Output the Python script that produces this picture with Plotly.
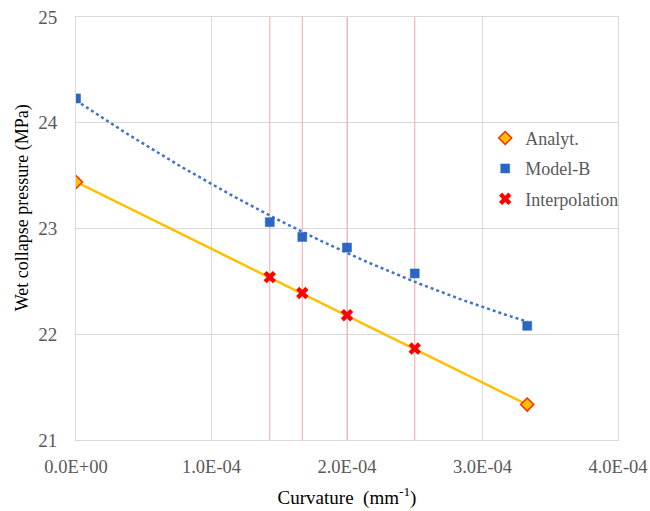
import numpy as np
import plotly.graph_objects as go

# ---- data ----
x_analyt = [0.0, 3.33e-4]
y_analyt = [23.44, 21.335]

x_model = [0.0, 1.43e-4, 1.67e-4, 2.0e-4, 2.5e-4, 3.33e-4]
y_model = [24.23, 23.06, 22.92, 22.82, 22.575, 22.08]

x_interp = [1.43e-4, 1.67e-4, 2.0e-4, 2.5e-4]
y_interp = [22.54, 22.39, 22.18, 21.865]

x_tickvals = [0.0, 1.0e-4, 2.0e-4, 3.0e-4, 4.0e-4]
x_ticktext = ["0.0E+00", "1.0E-04", "2.0E-04", "3.0E-04", "4.0E-04"]
y_tickvals = [21, 22, 23, 24, 25]

FONT = "Liberation Serif"
GRID = "#D9D9D9"

# Model-B polynomial (order 2) trendline, as in the spreadsheet chart
coef = np.polyfit(x_model, y_model, 2)
x_fit = np.linspace(min(x_model), max(x_model), 200)
y_fit = np.polyval(coef, x_fit)

fig = go.Figure()

# interpolation guide lines (vertical)
for xv in x_interp:
    fig.add_trace(go.Scatter(x=[xv, xv], y=[y_tickvals[0], y_tickvals[-1]], mode="lines",
                             line=dict(color="#F6A9A9", width=1),
                             showlegend=False, hoverinfo="skip"))

# Analyt line (straight)
fig.add_trace(go.Scatter(x=x_analyt, y=y_analyt, mode="lines",
                         line=dict(color="#FFC000", width=2.5),
                         showlegend=False, hoverinfo="skip"))
# Model-B trendline (dotted)
fig.add_trace(go.Scatter(x=x_fit, y=y_fit, mode="lines",
                         line=dict(color="#4472C4", width=2.5, dash="dot"),
                         showlegend=False, hoverinfo="skip"))

fig.add_trace(go.Scatter(x=x_analyt, y=y_analyt, mode="markers", name="Analyt.",
                         legendgroup="a",
                         marker=dict(symbol="diamond", size=10, color="#FFC000",
                                     line=dict(color="#FF2A00", width=1.5))))
fig.add_trace(go.Scatter(x=x_model, y=y_model, mode="markers", name="Model-B",
                         legendgroup="b",
                         marker=dict(symbol="square", size=9, color="#2B66C2",
                                     line=dict(color="#2B66C2", width=0.5))))
fig.add_trace(go.Scatter(x=x_interp, y=y_interp, mode="markers", name="Interpolation",
                         legendgroup="c",
                         marker=dict(symbol="x", size=11, color="#FF0000",
                                     line=dict(width=0))))

# y-axis title placed as in the reference (slightly above the axis centre)
fig.add_annotation(text="Wet collapse pressure (MPa)", xref="paper", yref="paper",
                   x=-0.0996, y=0.548, xanchor="center", yanchor="middle",
                   textangle=-90, showarrow=False,
                   font=dict(family=FONT, size=18, color="#000000"))

fig.update_layout(
    width=650, height=511,
    margin=dict(l=76, r=32, t=17, b=71, autoexpand=False),
    paper_bgcolor="white", plot_bgcolor="white",
    font=dict(family=FONT, size=19, color="#595959"),
    showlegend=True,
    legend=dict(x=0.755, xanchor="left", y=0.757, yanchor="top",
                font=dict(family=FONT, size=18, color="#595959"),
                bgcolor="rgba(255,255,255,0)", tracegroupgap=4,
                traceorder="grouped", itemwidth=30),
    xaxis=dict(range=[0, 4.0e-4], tickmode="array", tickvals=x_tickvals,
               ticktext=x_ticktext, showgrid=True, gridcolor=GRID, gridwidth=1,
               zeroline=False, showline=True, linecolor=GRID, linewidth=1, mirror=True,
               ticks="", ticklabelstandoff=10, automargin=False, ticklabeloverflow="allow",
               tickfont=dict(family=FONT, size=18.5, color="#595959"),
               title=dict(text="Curvature  (mm<sup>-1</sup>)",
                          font=dict(family=FONT, size=19, color="#000000"), standoff=14)),
    yaxis=dict(range=[21, 25], tickmode="array", tickvals=y_tickvals,
               showgrid=True, gridcolor=GRID, gridwidth=1,
               zeroline=False, showline=True, linecolor=GRID, linewidth=1, mirror=True,
               ticks="", ticklabelstandoff=14, automargin=False, ticklabeloverflow="allow",
               tickfont=dict(family=FONT, size=19, color="#595959")),
)

# remove the browser's default 8px body margin so the figure fills the window
fig.write_html("out.html", config={"displayModeBar": False},
               post_script="document.body.style.margin='0px';document.body.style.overflow='hidden';")
